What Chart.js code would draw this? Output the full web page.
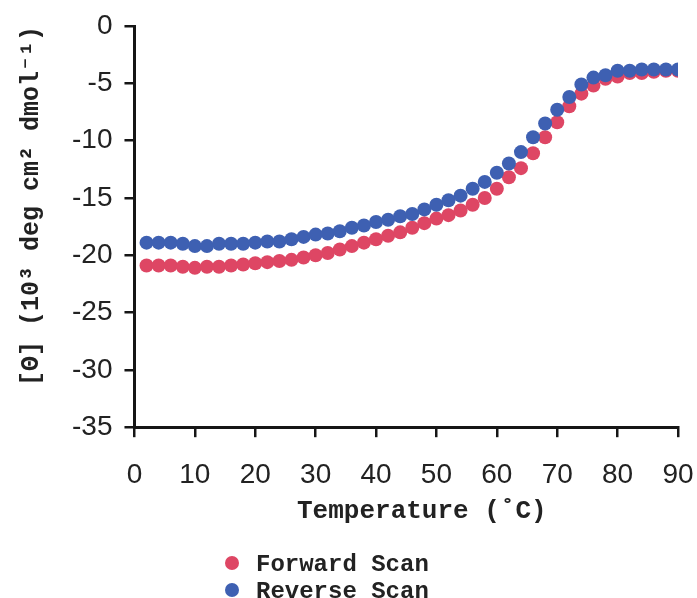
<!DOCTYPE html>
<html>
<head>
<meta charset="utf-8">
<script src="https://cdn.jsdelivr.net/npm/chart.js@4.4.1/dist/chart.umd.min.js"></script>
<style>
    html, body { margin: 0; padding: 0; background: #fff; overflow: hidden; }
    #wrap { position: relative; width: 697px; height: 598px; }
    #legend {
        position: absolute; left: 225px; top: 551px;
        font: bold 24px "Liberation Mono", "Courier New", monospace; color: #222;
    }
    #legend div { height: 27px; line-height: 27px; white-space: pre; }
    #legend span.dot {
        display: inline-block; width: 14px; height: 14px; border-radius: 50%;
        margin-right: 17px; vertical-align: 1px;
    }
</style>
</head>
<body>
<div id="wrap">
    <canvas id="cd-melt-chart"></canvas>
    <div id="legend"></div>
</div>
<script>
// temperature (°C), one reading every 2 degrees
const tempC = [2, 4, 6, 8, 10, 12, 14, 16, 18, 20, 22, 24, 26, 28, 30, 32, 34, 36, 38, 40, 42, 44, 46,
    48, 50, 52, 54, 56, 58, 60, 62, 64, 66, 68, 70, 72, 74, 76, 78, 80, 82, 84, 86, 88, 90];

// [Θ] in 10^3 deg cm^2 dmol^-1
const forwardScan = [-20.9, -20.9, -20.9, -21.0, -21.1, -21.0, -21.0, -20.9, -20.8, -20.7, -20.6, -20.5,
    -20.4, -20.2, -20.0, -19.8, -19.5, -19.2, -18.9, -18.6, -18.3, -18.0, -17.6, -17.2, -16.8, -16.5,
    -16.1, -15.6, -15.0, -14.2, -13.2, -12.4, -11.1, -9.7, -8.4, -7.0, -5.9, -5.2, -4.6, -4.4, -4.1,
    -4.1, -4.0, -3.9, -3.9];
const reverseScan = [-18.9, -18.9, -18.9, -19.0, -19.2, -19.2, -19.0, -19.0, -19.0, -18.9, -18.8, -18.8,
    -18.6, -18.4, -18.2, -18.1, -17.9, -17.6, -17.4, -17.1, -16.9, -16.6, -16.4, -16.0, -15.6, -15.2,
    -14.8, -14.2, -13.6, -12.8, -12.0, -11.0, -9.7, -8.5, -7.3, -6.2, -5.1, -4.5, -4.3, -3.9, -3.9,
    -3.8, -3.8, -3.8, -3.8];

const seriesNames = ['Forward Scan', 'Reverse Scan'];
const seriesColors = ['rgb(222, 70, 100)', 'rgb(62, 96, 178)'];

const xTitle = 'Temperature (˚C)';
const yTitle = '[Θ] (10³ deg cm² dmol⁻¹)';

const toPoints = function (values) {
    return values.map((v, i) => ({ x: tempC[i], y: v }));
};

const axisColor = '#161616';
const tickFont = { family: '"Liberation Sans", Arial, sans-serif', size: 28 };
const monoFamily = '"Liberation Mono", "Courier New", monospace';

const chart = new Chart(document.getElementById('cd-melt-chart'), {
    type: 'scatter',
    data: {
        datasets: [
            {
                label: seriesNames[0],
                data: toPoints(forwardScan),
                backgroundColor: seriesColors[0],
                borderWidth: 0,
                pointRadius: 7,
                order: 2
            },
            {
                label: seriesNames[1],
                data: toPoints(reverseScan),
                backgroundColor: seriesColors[1],
                borderWidth: 0,
                pointRadius: 7,
                order: 1
            }
        ]
    },
    options: {
        responsive: true,
        maintainAspectRatio: false,
        animation: false,
        layout: {
            padding: { left: 17, right: 0, top: 3, bottom: 71 }
        },
        plugins: {
            legend: { display: false },
            tooltip: { enabled: false }
        },
        scales: {
            x: {
                type: 'linear',
                min: 0,
                max: 90,
                // the tick padding would otherwise eat the right margin
                afterFit: (scale) => { scale.paddingRight = 19; },
                ticks: {
                    stepSize: 5,
                    color: '#222',
                    font: tickFont,
                    padding: 21,
                    maxRotation: 0,
                    callback: (v) => (v % 10 === 0 ? String(v) : '')
                },
                grid: { drawOnChartArea: false, drawTicks: true, tickLength: 10, color: axisColor, lineWidth: 2.5 },
                border: { display: true, color: axisColor, width: 3 },
                title: {
                    display: true, text: '  ' + xTitle, color: '#222',
                    font: { family: monoFamily, size: 26, weight: 'bold' },
                    padding: { top: -17, bottom: 0 }
                }
            },
            y: {
                type: 'linear',
                min: -35,
                max: 0,
                afterFit: (scale) => { scale.paddingTop = 26; },
                ticks: {
                    stepSize: 2.5,
                    color: '#222',
                    font: tickFont,
                    padding: 12,
                    callback: (v) => (v % 5 === 0 ? String(v) : '')
                },
                grid: { drawOnChartArea: false, drawTicks: true, tickLength: 10, color: axisColor, lineWidth: 2.5 },
                border: { display: true, color: axisColor, width: 3 },
                title: {
                    display: true, text: yTitle, color: '#222', align: 'end',
                    font: { family: monoFamily, size: 25, weight: 'bold' },
                    padding: { top: 0, bottom: 13 }
                }
            }
        }
    }
});

// legend stacked below the x axis title
const legendEl = document.getElementById('legend');
seriesNames.forEach((name, i) => {
    const row = document.createElement('div');
    const dot = document.createElement('span');
    dot.className = 'dot';
    dot.style.background = seriesColors[i];
    row.appendChild(dot);
    row.appendChild(document.createTextNode(name));
    legendEl.appendChild(row);
});
</script>
</body>
</html>
